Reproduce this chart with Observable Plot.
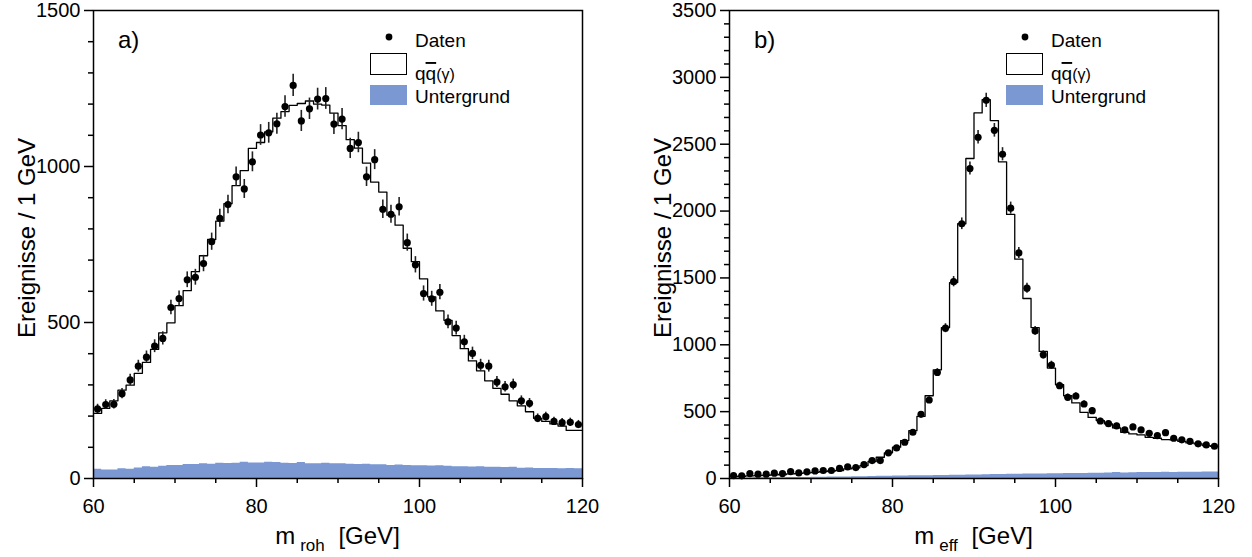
<!DOCTYPE html>
<html><head><meta charset="utf-8">
<script src="https://cdn.jsdelivr.net/npm/d3@7"></script>
<script src="https://cdn.jsdelivr.net/npm/@observablehq/plot@0.6"></script>
<style>
html,body{margin:0;padding:0;background:#fff;}
#wrap{display:flex;width:1252px;height:557px;overflow:hidden;}
#wrap svg{display:block;}
</style></head><body><div id="wrap"></div>
<script>
// bin lower edges, 1 GeV bins from 60 to 120
const binLo = d3.range(60, 120);

// panel a) m_roh
const dataA = [223,237,238,272,316,360,389,424,449,548,577,637,645,689,759,834,878,967,928,1015,1101,1108,1137,1192,1260,1146,1185,1216,1218,1136,1152,1058,1077,967,1022,863,847,871,756,685,593,576,597,502,482,438,401,363,360,309,294,301,249,241,193,198,183,179,180,173];
const mcA = [209,225,249,283,299,337,372,414,467,499,554,602,663,714,766,825,881,939,987,1058,1077,1111,1155,1176,1196,1202,1210,1200,1197,1171,1131,1086,1059,1011,950,918,844,812,738,695,640,582,537,507,458,416,377,345,313,289,270,249,233,214,193,183,175,168,154,154];
const bgA = [30,27,27,31,30,34,38,36,39,42,42,45,45,47,46,49,48,49,52,50,50,52,51,49,48,51,47,47,49,47,47,46,45,46,44,44,42,43,42,41,41,40,41,39,38,38,37,38,36,36,35,36,33,34,32,32,32,31,32,31];

// panel b) m_eff
const dataB = [22,20,37,32,32,40,37,52,42,50,57,60,60,75,87,82,104,134,134,192,229,271,346,480,587,793,1124,1472,1905,2318,2552,2828,2604,2425,2022,1687,1423,1104,925,848,694,607,617,557,507,430,410,393,363,386,363,338,321,343,301,289,278,259,251,241];
const mcB = [15,17,19,21,24,27,30,34,38,42,46,52,56,60,72,80,97,127,159,192,234,284,358,465,619,813,1129,1465,1905,2393,2734,2833,2677,2368,1975,1640,1346,1129,950,826,701,619,565,495,457,433,408,378,346,333,326,308,301,291,289,278,266,259,246,241];
const bgB = [3,4,4,5,5,6,6,7,8,8,9,10,11,11,12,13,14,15,16,17,18,19,20,20,21,22,23,24,25,26,27,28,29,30,31,32,33,34,34,35,36,37,38,38,39,40,41,44,42,43,44,45,44,46,45,47,46,47,48,48];

const xMajor = [60, 80, 100, 120];
const xMinor = [65, 70, 75, 85, 90, 95, 105, 110, 115];
const yMajorA = [0, 500, 1000, 1500];
const yMajorB = [0, 500, 1000, 1500, 2000, 2500, 3000, 3500];

const legendLabels = ["Daten", "Untergrund"];
const yTitle = "Ereignisse / 1 GeV";

const FONT = "Liberation Sans, Arial, Helvetica, sans-serif";
const BLUE = "#7b98d2";

function panel({ml, mr, data, mc, bg, yMax, yMajor, tag, sub}) {
  const W = 626, H = 557, MT = 10, MB = 79;
  const rows = binLo.map((x, i) => ({x0: x, xc: x + 0.5, d: data[i], m: mc[i], b: bg[i]}));
  const steps = [...rows.map(r => ({x: r.x0, m: r.m, b: r.b})), {x: 120, m: mc[mc.length-1], b: bg[bg.length-1]}];
  const yMinor = d3.range(0, yMax + 1, 100).filter(v => !yMajor.includes(v));
  const svg = Plot.plot({
    width: W, height: H, marginLeft: ml, marginRight: mr, marginTop: MT, marginBottom: MB,
    x: {domain: [60, 120]},
    y: {domain: [0, yMax]},
    style: {fontFamily: FONT, fontSize: "20px", color: "#000", background: "#fff"},
    marks: [
      Plot.areaY(steps, {x: "x", y: "b", curve: "step-after", fill: BLUE}),
      Plot.line(steps, {x: "x", y: "m", curve: "step-after", stroke: "#000", strokeWidth: 1.3}),
      Plot.ruleX(rows, {x: "xc", y1: d => d.d - Math.sqrt(d.d), y2: d => d.d + Math.sqrt(d.d), stroke: "#222", strokeWidth: 1.6}),
      Plot.dot(rows, {x: "xc", y: "d", r: 3.6, fill: "#000", stroke: "none"}),
      Plot.axisY({ticks: yMajor, tickSize: 9, tickPadding: 4, tickFormat: d3.format("d"), label: null, strokeWidth: 1.5, fontSize: 20}),
      Plot.axisY({ticks: yMinor, tickSize: 5, tickFormat: () => "", label: null, strokeWidth: 1.5}),
      Plot.axisX({ticks: xMajor, tickSize: 9, tickPadding: 11, tickFormat: d3.format("d"), label: null, strokeWidth: 1.5, fontSize: 20}),
      Plot.axisX({ticks: xMinor, tickSize: 5, tickFormat: () => "", label: null, strokeWidth: 1.5}),
      Plot.frame({stroke: "#000", strokeWidth: 1.5})
    ]
  });
  const s = d3.select(svg);
  const fx = ml, fr = W - mr, cy = (MT + (H - MB)) / 2;
  const txt = () => s.append("text").attr("text-anchor", "start").attr("font-family", FONT).attr("fill", "#000");
  // panel tag
  txt().attr("x", fx + 25).attr("y", 48).attr("font-size", 24).text(tag);
  // legend
  const lx = fx + 277;
  s.append("circle").attr("cx", lx + 19).attr("cy", 37).attr("r", 3.4).attr("fill", "#000");
  txt().attr("x", lx + 45).attr("y", 46.5).attr("font-size", 19).text(legendLabels[0]);
  s.append("rect").attr("x", lx + 0.5).attr("y", 53.5).attr("width", 36).attr("height", 21).attr("fill", "#fff").attr("stroke", "#000").attr("stroke-width", 1);
  const t2 = txt().attr("x", lx + 45).attr("y", 80).attr("font-size", 19);
  t2.append("tspan").text("q");
  t2.append("tspan").attr("style", "text-decoration: overline").text("q");
  t2.append("tspan").attr("font-size", 16).text("(γ)");
  s.append("rect").attr("x", lx).attr("y", 85).attr("width", 37).attr("height", 20).attr("fill", BLUE);
  txt().attr("x", lx + 45).attr("y", 102.5).attr("font-size", 19).text(legendLabels[1]);
  // y title
  s.append("text").attr("transform", `translate(${ml - 58},${cy - 6}) rotate(-90)`)
    .attr("text-anchor", "middle").attr("font-size", 24).attr("font-family", FONT).text(yTitle);
  // x title
  const xt = s.append("text").attr("x", (fx + fr) / 2).attr("y", 543.5).attr("text-anchor", "middle")
    .attr("font-size", 24).attr("font-family", FONT);
  xt.append("tspan").text("m");
  xt.append("tspan").attr("font-size", 17).attr("dx", 5).attr("dy", 7).text(sub);
  xt.append("tspan").attr("dx", 7).attr("dy", -7).text(" [GeV]");
  return svg;
}

const wrap = document.getElementById("wrap");
wrap.appendChild(panel({ml: 93, mr: 44, data: dataA, mc: mcA, bg: bgA, yMax: 1500, yMajor: yMajorA, tag: "a)", sub: "roh"}));
wrap.appendChild(panel({ml: 103, mr: 34, data: dataB, mc: mcB, bg: bgB, yMax: 3500, yMajor: yMajorB, tag: "b)", sub: "eff"}));
</script>
</body></html>
